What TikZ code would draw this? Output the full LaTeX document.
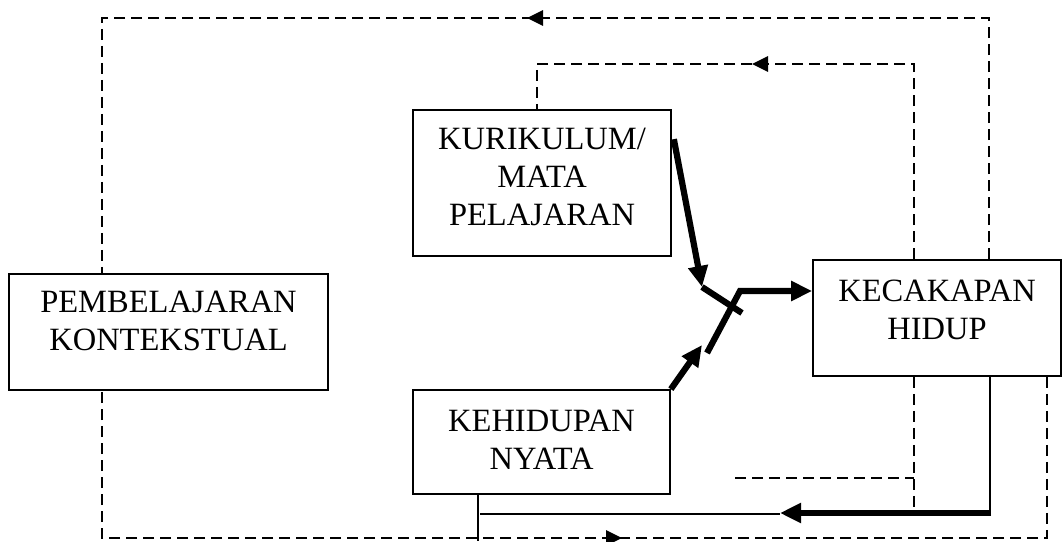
\documentclass[tikz,border=0pt]{standalone}
\usepackage{fontspec}
\setmainfont{Liberation Serif}
\usetikzlibrary{arrows.meta}
\begin{document}
\begin{tikzpicture}[x=1pt,y=-1pt,
  box/.style={draw, line width=1.7pt, rectangle, inner sep=0pt},
  txt/.style={inner sep=0pt, align=center, font=\fontsize{32.5}{38}\selectfont},
  dsh/.style={line width=2.7pt, dash pattern=on 11pt off 6pt},
  thn/.style={line width=1.7pt},
  thk/.style={line width=6.2pt},
  bigtip/.style={-{Triangle[length=21pt,width=19pt]}},
  dtip/.style={line width=2.7pt, -{Triangle[length=16pt,width=15pt]}}
]
\fill[white] (0,0) rectangle (1063,541);
\useasboundingbox (0,0) rectangle (1063,541);

% boxes
\node[box, minimum width=319pt, minimum height=116pt] (pk) at (168.5,332) {};
\node[box, minimum width=258pt, minimum height=146pt] (km) at (542,183) {};
\node[box, minimum width=248pt, minimum height=116pt] (kh) at (937,318) {};
\node[box, minimum width=257pt, minimum height=104pt] (kn) at (541.5,442) {};

% texts
\node[txt] (pkt) at (168.5,321) {PEMBELAJARAN\\KONTEKSTUAL};
\node[txt] (kmt) at (542,177) {KURIKULUM/\\MATA\\PELAJARAN};
\node[txt] (kht) at (937,310) {KECAKAPAN\\HIDUP};
\node[txt] (knt) at (541.5,440) {KEHIDUPAN\\NYATA};

% junction coordinates
\coordinate (j1) at (702,287);
\coordinate (j2) at (742,313);
\coordinate (j3) at (702,345);
\coordinate (j4) at (707,353);
\coordinate (j5) at (740,291);

% thick converging arrows
\draw[thk, bigtip] ([xshift=2pt,yshift=-30pt]km.north east) -- (j1);
\draw[thk] (j1) -- (j2);
\draw[thk, bigtip] (kn.north east) -- (j3);
\draw[thk, bigtip] (j4) -- (j5) -- (kh.west |- j5);

% top dashed loops
\draw[dsh] (989,0 |- kh.north) -- (989,18) -- (102,18) -- (102,0 |- pk.north);
\draw[dtip] (543,18) -- (527,18);
\draw[dsh] (914,0 |- kh.north) -- (914,64) -- (537,64) -- (537,0 |- km.north);
\draw[dtip] (768,64) -- (752,64);

% bottom dashed loop
\draw[dsh] (1047,0 |- kh.south) -- (1047,538) -- (102,538) -- (102,0 |- pk.south);
\draw[dtip] (606,538) -- (622,538);

% inner dashed lines
\coordinate (d1) at (914,513);
\coordinate (d2) at (914,478);
\coordinate (d3) at (735,478);
\draw[dsh] (d1 |- kh.south) -- (d1);
\draw[dsh] (d3) -- (d2);

% solid return line
\coordinate (b1) at (990,513);
\coordinate (b2) at (780,513);
\coordinate (b3) at (480,514);
\coordinate (b4) at (478,541);
\draw[thn] (b4 |- kn.south) -- (b4);
\draw[thn] (b3) -- (b2 |- b3);
\draw[thn] (b1 |- kh.south) -- (b1);
\draw[thk, bigtip] ([xshift=1pt]b1) -- (b2);
\end{tikzpicture}
\end{document}
